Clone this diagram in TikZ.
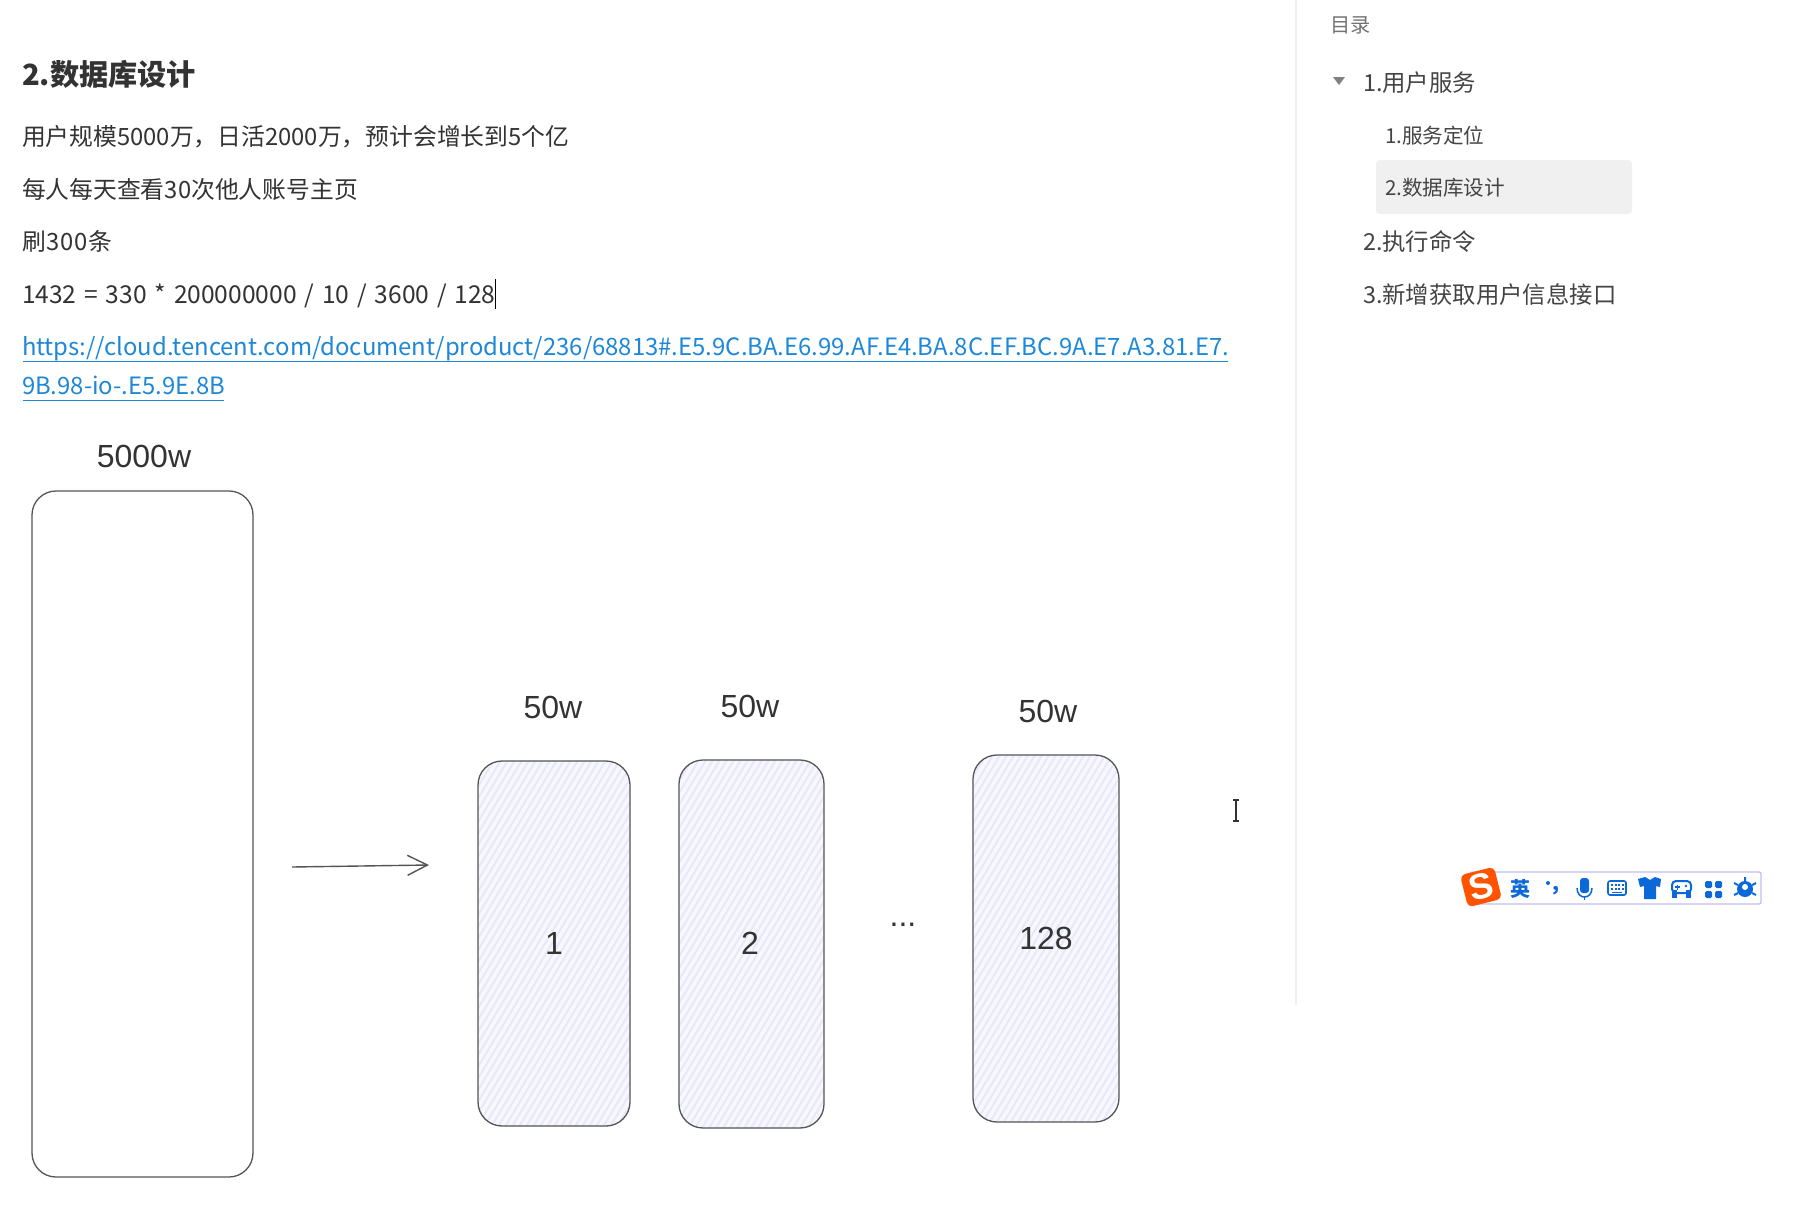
\documentclass[tikz,border=0pt]{standalone}
\usepackage{fontspec}
\setmainfont{Noto Sans CJK SC}
\newfontfamily\drawfont{Liberation Sans}
\newfontfamily\eqfont[WordSpace=1.42]{Noto Sans CJK SC}
\newfontfamily\wideqfont[LetterSpace=3]{Noto Sans CJK SC}
\usetikzlibrary{arrows.meta}
\definecolor{bodytxt}{HTML}{333333}
\definecolor{sidetxt}{HTML}{444444}
\definecolor{linkblue}{HTML}{1E88D8}
\definecolor{hatchbg}{HTML}{F7F7FF}
\definecolor{hatchln}{HTML}{E8E8F8}
\definecolor{boxln}{HTML}{555555}
\definecolor{imeblue}{HTML}{0B68D8}
\tikzset{
  x=1pt,y=-1pt,
  every node/.style={inner sep=0pt,outer sep=0pt},
  para/.style={anchor=base west,text=bodytxt,font=\fontsize{23.8}{24}\selectfont},
  head/.style={anchor=base west,text=bodytxt,font=\fontsize{29.2}{29}\selectfont\bfseries},
  linktxt/.style={anchor=base west,text=linkblue,font=\fontsize{23.88}{24}\selectfont},
  side1/.style={anchor=base west,text=sidetxt,font=\fontsize{23.4}{24}\selectfont},
  side2/.style={anchor=base west,text=sidetxt,font=\fontsize{20.6}{21}\selectfont},
  hand/.style={text=black!80,font=\drawfont\fontsize{32}{32}\selectfont},
  bigbox/.style={draw=boxln,line width=1.3pt,rounded corners=24pt,fill=white},
  shardbox/.style={draw=boxln,line width=1.3pt,rounded corners=24pt,fill=hatchbg,
    path picture={
      \foreach \k in {-60,...,90}{
        \draw[hatchln,line width=2pt]
          ([xshift=\k*7pt,yshift=-300pt]path picture bounding box.center) --
          ([xshift=\k*7pt+360pt,yshift=300pt]path picture bounding box.center);
      }}},
  imeicon/.style={text=imeblue,font=\fontsize{20}{20}\selectfont\bfseries},
}
\begin{document}
\begin{tikzpicture}
\useasboundingbox (0,0) rectangle (1816,1210);
\fill[white] (0,0) rectangle (1816,1210);
% sidebar
\draw[draw=black!6,line width=2pt] (1296,0) coordinate (sidetop) -- (1296,1005) coordinate (sidebot);
\node[anchor=base west,text=black!55,font=\fontsize{20.2}{20}\selectfont] (toc) at (1330,32) {目录};
\fill[black!6,rounded corners=4pt] (1376,160) rectangle (1632,214);
\fill[black!50] (1333,77) -- (1345,77) -- (1339,85) -- cycle;
\node[side1] (s1) at (1363,91) {1.用户服务};
\node[side2] (s2) at (1385,143) {1.服务定位};
\node[side2] (s3) at (1385,195) {2.数据库设计};
\node[side1] (s4) at (1363,250) {2.执行命令};
\node[side1] (s5) at (1363,303) {3.新增获取用户信息接口};
% main text
\node[head] (h) at (22,85) {2.数据库设计};
\node[para] (p1) at (22,145) {用户规模5000万，日活2000万，预计会增长到5个亿};
\node[para] (p2) at (22,198) {每人每天查看30次他人账号主页};
\node[para] (p3) at (22,250) {\wideqfont 刷300条};
\node[para] (p4) at (22,303) {\eqfont\fontsize{24.6}{25}\selectfont 1432 = 330 * 200000000 / 10 / 3600 / 128};
\draw[black,line width=1pt] (495,279) -- (495,309);
\node[linktxt] (l1) at (22,355) {https://cloud.tencent.com/document/product/236/68813\#.E5.9C.BA.E6.99.AF.E4.BA.8C.EF.BC.9A.E7.A3.81.E7.};
\node[linktxt] (l2) at (22,394) {9B.98-io-.E5.9E.8B};
\draw[linkblue,line width=.9pt] (23,361) -- (1228,361);
\draw[linkblue,line width=.9pt] (23,400) -- (224,400);
% diagram
\node[hand] (t0) at (144,456) {5000w};
\draw[bigbox] (32,491) rectangle (253,1177);
\node[hand] (t1) at (553,707) {50w};
\node[hand] (t2) at (750,706) {50w};
\node[hand] (t3) at (1048,711) {50w};
\draw[shardbox] (478,761) rectangle (630,1126);
\draw[shardbox] (679,760) rectangle (824,1128);
\draw[shardbox] (973,755) rectangle (1119,1122);
\node[hand] (n1) at (554,943) {1};
\node[hand] (n2) at (750,943) {2};
\node[hand] (n3) at (1046,938) {128};
\node[hand] (dots) at (903,925) {...};
\coordinate (arrowa) at (292,867);
\coordinate (arrowb) at (429,865);
\draw[boxln,line width=1.4pt,-{Straight Barb[length=20pt,width=20pt,line width=1.4pt]}] (arrowa) -- (arrowb);
% I-beam cursor
\draw[black!80,line width=1.4pt] (1233,800) -- (1239,800) (1236,800) -- (1236,821) (1233,821) -- (1239,821);
% IME toolbar
\draw[black!22!blue!25,line width=1.2pt,fill=white,rounded corners=2pt] (1470,872) rectangle (1761,904);
\node[rotate=14,fill=orange!65!red,rounded corners=5pt,minimum width=35pt,minimum height=33pt,text=white,font=\drawfont\fontsize{36}{36}\selectfont\bfseries] (logo) at (1481,887) {S};
\node[imeicon] (ying) at (1520,889) {英};
\fill[imeblue] (1548,883) circle (2pt);
\node[anchor=base,imeicon] (comma) at (1556,890) {,};
% mic
\fill[imeblue,rounded corners=3pt] (1580,878) rectangle (1589,893);
\draw[imeblue,line width=1.5pt] (1577,888) .. controls (1577,900) and (1592,900) .. (1592,888);
\draw[imeblue,line width=1.5pt] (1584.5,896) -- (1584.5,900);
% keyboard
\draw[imeblue,line width=1.6pt,rounded corners=2pt] (1608,881) rectangle (1626,895);
\foreach \i in {0,1,2,3}{\fill[imeblue] (1611+\i*3.6,884) rectangle ++(2,2); \fill[imeblue] (1611+\i*3.6,888) rectangle ++(2,2);}
\fill[imeblue] (1612,891.5) rectangle (1622,893);
% shirt
\fill[imeblue] (1638,879) -- (1645,877) -- (1650,880) -- (1655,877) -- (1661,879) -- (1660,887) -- (1656,886) -- (1656,899) -- (1644,899) -- (1644,886) -- (1640,887) -- cycle;
% gamepad
\draw[imeblue,line width=2pt,rounded corners=4pt] (1672,881) rectangle (1691,893);
\fill[imeblue] (1672,890) rectangle (1677,898);
\fill[imeblue] (1686,890) rectangle (1691,898);
\draw[imeblue,line width=1.2pt] (1675,887) -- (1680,887) (1677.5,884.5) -- (1677.5,889.5);
\fill[imeblue] (1686,886) circle (1.3pt);
% apps
\fill[imeblue,rounded corners=1.5pt] (1705,881) rectangle (1712,888);
\fill[imeblue,rounded corners=1.5pt] (1715,881) rectangle (1722,888);
\fill[imeblue,rounded corners=1.5pt] (1705,891) rectangle (1712,898);
\fill[imeblue,rounded corners=1.5pt] (1715,891) rectangle (1722,898);
% gear
\fill[imeblue] (1745,889) circle (8pt);
\fill[white] (1745,887) circle (3pt);
\draw[imeblue,line width=2pt] (1745,877) -- (1745,881) (1734,883) -- (1738,885) (1756,883) -- (1752,885) (1734,895) -- (1738,893) (1756,895) -- (1752,893);
\end{tikzpicture}
\end{document}
